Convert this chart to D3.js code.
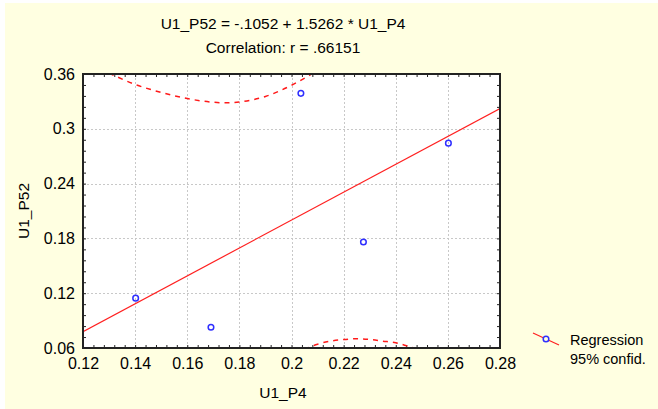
<!DOCTYPE html>
<html>
<head>
<meta charset="utf-8">
<script src="https://cdn.jsdelivr.net/npm/d3@7"></script>
<style>
  html, body { margin: 0; padding: 0; background: #fff; }
  svg { display: block; }
  text { font-family: "Liberation Sans", Arial, sans-serif; fill: #000; }
</style>
</head>
<body>
<div id="chart"></div>
<script>
// ---- data ----
const xTickValues = [0.12, 0.14, 0.16, 0.18, 0.2, 0.22, 0.24, 0.26, 0.28];
const xTickLabels = ["0.12", "0.14", "0.16", "0.18", "0.2", "0.22", "0.24", "0.26", "0.28"];
const yTickValues = [0.06, 0.12, 0.18, 0.24, 0.3, 0.36];
const yTickLabels = ["0.06", "0.12", "0.18", "0.24", "0.3", "0.36"];

// observed cases
const u1P4 = [0.1402, 0.1691, 0.2036, 0.2276, 0.2602];
const u1P52 = [0.1146, 0.0828, 0.3388, 0.1760, 0.2843];

// regression line ends (U1_P52 = -.1052 + 1.5262 * U1_P4)
const regX = [0.12, 0.28];
const regY = [0.0779, 0.3221];

// 95% confidence band, upper and lower parts visible in the frame
const bandUpX = [0.13, 0.14, 0.15, 0.16, 0.17, 0.175, 0.18, 0.19, 0.20, 0.21];
const bandUpY = [0.361, 0.3486, 0.3398, 0.3331, 0.3291, 0.3284, 0.3294, 0.3354, 0.3477, 0.364];
const bandLoX = [0.205, 0.21, 0.215, 0.22, 0.225, 0.23, 0.235, 0.24, 0.245, 0.25];
const bandLoY = [0.0585, 0.0642, 0.0675, 0.0693, 0.0701, 0.0693, 0.0675, 0.0658, 0.0617, 0.0575];

const titleLines = ["U1_P52 = -.1052 + 1.5262 * U1_P4", "Correlation: r = .66151"];
const legendLabels = ["Regression", "95% confid."];

// ---- layout ----
const W = 658, H = 409;
const plot = { left: 83, right: 500, top: 74, bottom: 348 };

const svg = d3.select("#chart").append("svg")
    .attr("width", W)
    .attr("height", H);

// pale yellow page
svg.append("rect")
    .attr("x", 5).attr("y", 3)
    .attr("width", W - 5).attr("height", H - 3)
    .attr("fill", "#ffffe1");

const x = d3.scaleLinear().domain([0.12, 0.28]).range([plot.left, plot.right]);
const y = d3.scaleLinear().domain([0.06, 0.36]).range([plot.bottom, plot.top]);

// plot background
svg.append("rect")
    .attr("x", plot.left).attr("y", plot.top)
    .attr("width", plot.right - plot.left).attr("height", plot.bottom - plot.top)
    .attr("fill", "#fff");

// clip for curves
svg.append("clipPath").attr("id", "clip")
    .append("rect")
    .attr("x", plot.left).attr("y", plot.top)
    .attr("width", plot.right - plot.left).attr("height", plot.bottom - plot.top);

// grid lines (dotted)
const grid = svg.append("g").attr("stroke", "#c8c8c8").attr("stroke-dasharray", "2,2");
grid.selectAll(".gx")
    .data(xTickValues.slice(1, -1))
    .join("line")
    .attr("x1", d => Math.round(x(d)) + 0.5).attr("x2", d => Math.round(x(d)) + 0.5)
    .attr("y1", plot.top).attr("y2", plot.bottom);
grid.selectAll(".gy")
    .data(yTickValues.slice(1, -1))
    .join("line")
    .attr("y1", d => Math.round(y(d)) + 0.5).attr("y2", d => Math.round(y(d)) + 0.5)
    .attr("x1", plot.left).attr("x2", plot.right);

// axes: ticks point inward on all four sides, 4 minor ticks between majors
const xMinor = d3.range(0, 41).map(i => 0.12 + i * 0.004);
const yMinor = d3.range(0, 26).map(i => 0.06 + i * 0.012);

function addAxis(axis, transform) {
    const gA = svg.append("g").attr("transform", transform).call(axis);
    gA.select(".domain").remove();
    gA.selectAll("line").attr("stroke", "#222");
    return gA;
}
addAxis(d3.axisBottom(x).tickValues(xMinor).tickSize(-3).tickFormat(""), `translate(0,${plot.bottom})`);
addAxis(d3.axisTop(x).tickValues(xMinor).tickSize(-3).tickFormat(""), `translate(0,${plot.top})`);
addAxis(d3.axisLeft(y).tickValues(yMinor).tickSize(-3).tickFormat(""), `translate(${plot.left},0)`);
addAxis(d3.axisRight(y).tickValues(yMinor).tickSize(-3).tickFormat(""), `translate(${plot.right},0)`);

// tick labels
const xLab = d3.axisBottom(x).tickValues(xTickValues).tickSize(0).tickPadding(10)
    .tickFormat((d, i) => xTickLabels[i]);
const gxl = svg.append("g").attr("transform", `translate(0,${plot.bottom})`).call(xLab);
gxl.select(".domain").remove();
gxl.selectAll("text").attr("font-size", 16).attr("font-family", "Liberation Sans, Arial, sans-serif").attr("fill", "#000");

const yLab = d3.axisLeft(y).tickValues(yTickValues).tickSize(0).tickPadding(8)
    .tickFormat((d, i) => yTickLabels[i]);
const gyl = svg.append("g").attr("transform", `translate(${plot.left},0)`).call(yLab);
gyl.select(".domain").remove();
gyl.selectAll("text").attr("font-size", 16).attr("font-family", "Liberation Sans, Arial, sans-serif").attr("fill", "#000");

// confidence band
const bandLine = d3.line().x(d => x(d[0])).y(d => y(d[1])).curve(d3.curveMonotoneX);
const bands = svg.append("g").attr("clip-path", "url(#clip)");
[[bandUpX, bandUpY], [bandLoX, bandLoY]].forEach(([bx, by]) => {
    bands.append("path")
        .attr("d", bandLine(bx.map((v, i) => [v, by[i]])))
        .attr("fill", "none")
        .attr("stroke", "#ff1a1a")
        .attr("stroke-width", 1.5)
        .attr("stroke-dasharray", "5,5");
});

// regression line
bands.append("path")
    .attr("d", bandLine(regX.map((v, i) => [v, regY[i]])))
    .attr("fill", "none")
    .attr("stroke", "#ff2020")
    .attr("stroke-width", 1.2);

// frame
svg.append("rect")
    .attr("x", plot.left).attr("y", plot.top)
    .attr("width", plot.right - plot.left).attr("height", plot.bottom - plot.top)
    .attr("fill", "none")
    .attr("stroke", "#222")
    .attr("stroke-width", 2);

// points
svg.selectAll(".pt")
    .data(u1P4.map((v, i) => [v, u1P52[i]]))
    .join("circle")
    .attr("class", "pt")
    .attr("cx", d => x(d[0]))
    .attr("cy", d => y(d[1]))
    .attr("r", 2.8)
    .attr("fill", "none")
    .attr("stroke", "#2f2fff")
    .attr("stroke-width", 1.5);

// titles
svg.selectAll(".title")
    .data(titleLines)
    .join("text")
    .attr("x", 283)
    .attr("y", (d, i) => 29 + i * 24)
    .attr("text-anchor", "middle")
    .attr("font-size", 15.5)
    .text(d => d);

// axis titles
svg.append("text")
    .attr("x", 283)
    .attr("y", 398)
    .attr("text-anchor", "middle")
    .attr("font-size", 15.5)
    .text("U1_P4");

svg.append("text")
    .attr("transform", `translate(29,${(plot.top + plot.bottom) / 2}) rotate(-90)`)
    .attr("text-anchor", "middle")
    .attr("font-size", 15.5)
    .text("U1_P52");

// legend
const legend = svg.append("g");
legend.append("line")
    .attr("x1", 533).attr("y1", 333)
    .attr("x2", 559).attr("y2", 345)
    .attr("stroke", "#ff2020")
    .attr("stroke-width", 1.2);
legend.append("circle")
    .attr("cx", 546).attr("cy", 339).attr("r", 2.8)
    .attr("fill", "#ffffe1")
    .attr("stroke", "#2f2fff")
    .attr("stroke-width", 1.5);
legend.selectAll(".lt")
    .data(legendLabels)
    .join("text")
    .attr("x", 570)
    .attr("y", (d, i) => 345 + i * 19)
    .attr("font-size", 14.5)
    .text(d => d);
</script>
</body>
</html>
